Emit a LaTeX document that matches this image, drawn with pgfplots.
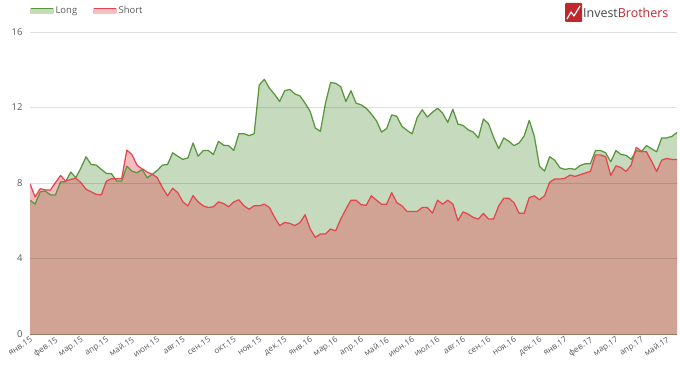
\documentclass[border=0pt]{standalone}
\usepackage{pgfplots}
\pgfplotsset{compat=1.18}
\usepackage{pgfplotstable}
\usepackage{fontspec}
\setmainfont{Open Sans}
\definecolor{gline}{RGB}{88,150,60}
\definecolor{gfill}{RGB}{198,218,189}
\definecolor{rline}{RGB}{228,70,78}
\definecolor{lab}{RGB}{89,89,89}
\definecolor{logored}{RGB}{192,39,45}
\definecolor{logogray}{RGB}{70,70,70}
\definecolor{baseline}{RGB}{150,120,105}

\pgfplotstableread{
i long short
0 7.09 7.96
1 6.88 7.26
2 7.53 7.70
3 7.58 7.63
4 7.37 7.63
5 7.37 8.02
6 8.07 8.40
7 8.07 8.10
8 8.58 8.19
9 8.28 8.25
10 8.80 8.02
11 9.39 7.67
12 8.98 7.53
13 8.95 7.40
14 8.72 7.37
15 8.51 8.10
16 8.49 8.23
17 8.10 8.23
18 8.10 8.23
19 8.89 9.74
20 8.63 9.51
21 8.54 8.95
22 8.72 8.75
23 8.28 8.58
24 8.46 8.46
25 8.67 8.28
26 8.95 7.75
27 8.98 7.32
28 9.60 7.72
29 9.42 7.49
30 9.25 7.00
31 9.33 6.79
32 10.12 7.33
33 9.42 7.00
34 9.72 6.79
35 9.72 6.70
36 9.51 6.74
37 10.21 7.00
38 10.00 6.91
39 9.98 6.74
40 9.72 7.00
41 10.61 7.11
42 10.61 6.79
43 10.51 6.61
44 10.61 6.79
45 13.19 6.79
46 13.49 6.88
47 13.02 6.70
48 12.70 6.18
49 12.32 5.74
50 12.89 5.91
51 12.96 5.86
52 12.72 5.74
53 12.61 5.91
54 12.23 6.32
55 11.79 5.56
56 10.91 5.12
57 10.74 5.30
58 12.23 5.30
59 13.32 5.56
60 13.28 5.47
61 13.10 6.09
62 12.32 6.61
63 12.89 7.09
64 12.23 7.09
65 12.14 6.85
66 11.96 6.82
67 11.65 7.32
68 11.30 7.09
69 10.70 6.88
70 10.88 6.88
71 11.61 7.49
72 11.53 6.96
73 11.00 6.79
74 10.79 6.49
75 10.60 6.49
76 11.47 6.49
77 11.88 6.70
78 11.49 6.70
79 11.75 6.40
80 11.96 7.09
81 11.70 6.88
82 11.21 7.09
83 11.91 6.88
84 11.12 6.00
85 11.05 6.47
86 10.82 6.35
87 10.70 6.18
88 10.39 6.09
89 11.39 6.39
90 11.14 6.09
91 10.42 6.09
92 9.82 6.79
93 10.39 7.19
94 10.21 7.19
95 9.98 6.96
96 10.12 6.40
97 10.49 6.40
98 11.32 7.23
99 10.47 7.32
100 8.89 7.11
101 8.63 7.32
102 9.39 8.04
103 9.21 8.21
104 8.81 8.21
105 8.72 8.25
106 8.77 8.42
107 8.72 8.35
108 8.93 8.44
109 9.02 8.53
110 9.02 8.61
111 9.72 9.49
112 9.72 9.49
113 9.60 9.39
114 9.12 8.39
115 9.72 8.91
116 9.51 8.82
117 9.47 8.61
118 9.25 8.95
119 9.72 9.89
120 9.65 9.68
121 9.98 9.65
122 9.82 9.16
123 9.65 8.61
124 10.39 9.21
125 10.39 9.30
126 10.47 9.25
127 10.68 9.25
}\datatable

\begin{document}
\begin{tikzpicture}
\begin{axis}[
  at={(0,0)}, anchor=south west,
  scale only axis, width=647bp, height=302bp,
  xmin=0, xmax=127, ymin=0, ymax=16,
  ytick={0,4,8,12,16},
  xtick={0,5,...,125},
  xticklabels={янв.15,фев.15,мар.15,апр.15,май.15,июн.15,авг.15,сен.15,окт.15,ноя.15,дек.15,янв.16,мар.16,апр.16,май.16,июн.16,июл.16,авг.16,сен.16,ноя.16,дек.16,янв.17,фев.17,мар.17,апр.17,май.17},
  x tick label style={rotate=33, anchor=north east, font=\fontsize{8.3}{9}\selectfont, text=lab, inner sep=1.5bp},
  y tick label style={font=\fontsize{9.5}{10}\selectfont, text=lab, xshift=-4bp},
  /pgf/number format/assume math mode=true,
  major tick length=0pt,
  ymajorgrids, major grid style={black, opacity=0.12, line width=0.8pt},
  axis on top,
  axis x line*=bottom, axis y line*=left,
  y axis line style={draw=none},
  x axis line style={draw=baseline, line width=0.9pt, -},
  legend style={at={(0,1)}, anchor=south west, draw=none, fill=none, legend columns=2,
    font=\fontsize{9.5}{10}\selectfont, text=lab, inner xsep=0pt, inner ysep=0pt,
    yshift=15bp,
    /tikz/every even column/.append style={column sep=14bp}},
]
\addplot[fill=gfill, draw=none, forget plot] table[x=i, y=long] {\datatable} \closedcycle;
\addplot[fill=rline, fill opacity=0.37, draw=none, forget plot] table[x=i, y=short] {\datatable} \closedcycle;
\addplot[gline, line width=1.25pt, line join=round,
  legend image code/.code={\fill[gfill] (0bp,-2.5bp) rectangle (22bp,2bp); \draw[gline, line width=1.4pt] (0bp,2bp) -- (22bp,2bp);}]
  table[x=i, y=long] {\datatable};
\addlegendentry{Long}
\addplot[rline, line width=1.25pt, line join=round,
  legend image code/.code={\fill[rline!35] (0bp,-2.5bp) rectangle (22bp,2bp); \draw[rline, line width=1.4pt] (0bp,2bp) -- (22bp,2bp);}]
  table[x=i, y=short] {\datatable};
\addlegendentry{Short}
\end{axis}
% logo
\fill[logored, rounded corners=1bp] (535bp,312bp) rectangle (552bp,331bp);
\draw[white, line width=1.2pt, line join=round] (537bp,315bp) -- (541bp,322bp) -- (544bp,318bp) -- (550bp,328bp);
\node[anchor=base west, inner sep=0pt] at (553bp,316bp) {\fontsize{12.5}{13}\selectfont\textcolor{logogray}{Invest}\textcolor{logored}{Brothers}};
\pgfresetboundingbox
\useasboundingbox (-30bp,-37bp) rectangle (650bp,334bp);
\end{tikzpicture}
\end{document}
